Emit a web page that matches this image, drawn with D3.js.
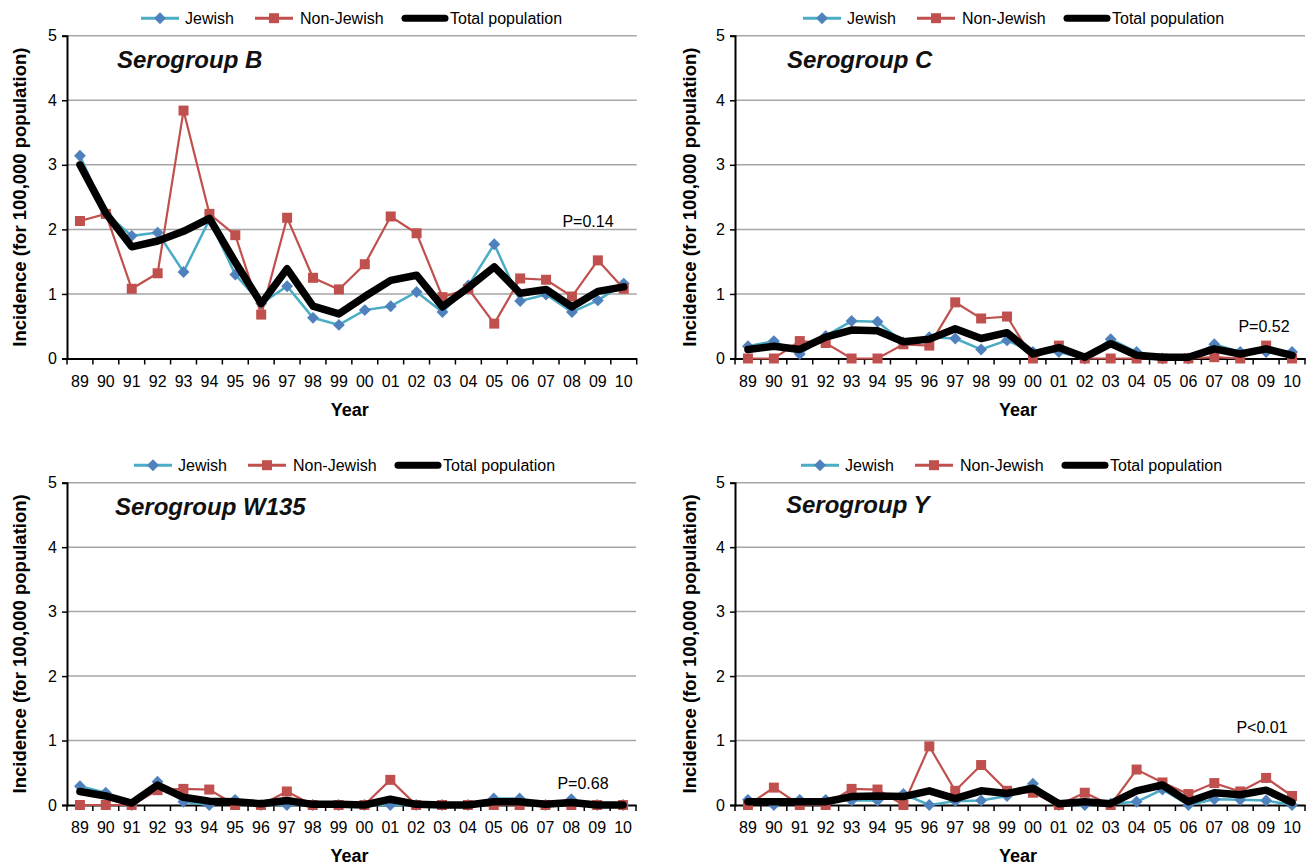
<!DOCTYPE html>
<html><head><meta charset="utf-8">
<script src="https://cdn.jsdelivr.net/npm/d3@7"></script>
<style>
html,body{margin:0;padding:0;background:#fff;}
svg{display:block;font-family:"Liberation Sans",Arial,sans-serif;}
</style></head>
<body><svg id="c" width="1314" height="868"></svg>
<script>
const years = ["89","90","91","92","93","94","95","96","97","98","99","00","01","02","03","04","05","06","07","08","09","10"];
const yTicks = [0,1,2,3,4,5];
const seriesNames = ["Jewish","Non-Jewish","Total population"];

const bJewish    = [3.14,2.25,1.90,1.95,1.34,2.15,1.30,0.85,1.12,0.63,0.52,0.75,0.81,1.03,0.72,1.13,1.77,0.89,0.99,0.72,0.90,1.16];
const bNonJewish = [2.13,2.24,1.08,1.32,3.84,2.24,1.91,0.68,2.18,1.25,1.07,1.46,2.20,1.94,0.95,1.08,0.54,1.24,1.22,0.96,1.52,1.08];
const bTotal     = [3.00,2.25,1.73,1.82,1.97,2.17,1.49,0.85,1.39,0.81,0.69,0.96,1.21,1.29,0.80,1.10,1.42,1.01,1.07,0.80,1.04,1.11];

const cJewish    = [0.19,0.27,0.07,0.35,0.58,0.57,0.25,0.33,0.31,0.14,0.28,0.10,0.10,0.00,0.30,0.10,0.00,0.00,0.22,0.10,0.10,0.10];
const cNonJewish = [0.00,0.00,0.27,0.24,0.00,0.00,0.22,0.20,0.87,0.62,0.65,0.00,0.20,0.00,0.00,0.00,0.00,0.00,0.02,0.00,0.20,0.00];
const cTotal     = [0.14,0.19,0.14,0.33,0.44,0.43,0.26,0.30,0.46,0.31,0.40,0.07,0.17,0.02,0.23,0.05,0.02,0.02,0.15,0.07,0.15,0.05];

const wJewish    = [0.29,0.19,0.00,0.36,0.05,0.00,0.08,0.00,0.00,0.00,0.00,0.00,0.00,0.00,0.00,0.00,0.10,0.10,0.00,0.09,0.00,0.00];
const wNonJewish = [0.00,0.00,0.00,0.23,0.25,0.24,0.00,0.00,0.21,0.00,0.00,0.00,0.39,0.00,0.00,0.00,0.00,0.00,0.00,0.00,0.00,0.00];
const wTotal     = [0.21,0.14,0.03,0.31,0.12,0.06,0.05,0.02,0.07,0.01,0.01,0.00,0.09,0.01,0.00,0.00,0.05,0.05,0.01,0.04,0.00,0.00];

const yJewish    = [0.08,0.00,0.08,0.08,0.07,0.07,0.17,0.00,0.06,0.07,0.14,0.33,0.00,0.00,0.02,0.05,0.24,0.00,0.09,0.08,0.07,0.00];
const yNonJewish = [0.00,0.27,0.00,0.00,0.25,0.24,0.00,0.91,0.22,0.62,0.22,0.19,0.00,0.19,0.00,0.55,0.35,0.17,0.34,0.21,0.42,0.14];
const yTotal     = [0.05,0.05,0.05,0.05,0.13,0.14,0.13,0.22,0.10,0.22,0.18,0.26,0.02,0.05,0.02,0.22,0.31,0.05,0.19,0.16,0.23,0.04];

const titles = ["Serogroup B","Serogroup C","Serogroup W135","Serogroup Y"];
const pLabels = ["P=0.14","P=0.52","P=0.68","P<0.01"];
const pValuePos = [2.12, 0.49, 0.33, 1.21]; // y-value where P text sits

const panels = [
  {title:titles[0], p:pLabels[0], pv:pValuePos[0], data:[bJewish,bNonJewish,bTotal], x0:67, x1:636.7, y0:358.5, y5:35.7, lx:141, tx:117, ty:68, px:588, lab:20},
  {title:titles[1], p:pLabels[1], pv:pValuePos[1], data:[cJewish,cNonJewish,cTotal], x0:735, x1:1305, y0:358.5, y5:35.7, lx:803, tx:787, ty:68, px:1264, lab:690},
  {title:titles[2], p:pLabels[2], pv:pValuePos[2], data:[wJewish,wNonJewish,wTotal], x0:67, x1:636, y0:805, y5:482.7, lx:134, tx:115, ty:515, px:583, lab:20},
  {title:titles[3], p:pLabels[3], pv:pValuePos[3], data:[yJewish,yNonJewish,yTotal], x0:735, x1:1305, y0:805, y5:482.7, lx:801, tx:786, ty:513, px:1262, lab:690}
];

const lineCol = ["#4bacc6","#c0504d","#000000"];
const markCol = ["#4f81bd","#c0504d","#000000"];
const lineW = [2.5,2.2,7.5];

const svg = d3.select("#c");

panels.forEach(P => {
  const g = svg.append("g");
  const x = d3.scaleBand().domain(years).range([P.x0, P.x1]).paddingInner(0).paddingOuter(0);
  const y = d3.scaleLinear().domain([0,5]).range([P.y0, P.y5]);
  const cx = d => x(d) + x.bandwidth()/2;

  g.selectAll(".grid").data(yTicks.filter(t=>t>0)).enter().append("line")
    .attr("x1", P.x0).attr("x2", P.x1).attr("y1", d=>y(d)).attr("y2", d=>y(d))
    .attr("stroke","#a6a6a6").attr("stroke-width",1.5);

  const ya = g.append("g").attr("transform",`translate(${P.x0},0)`)
    .call(d3.axisLeft(y).tickValues(yTicks).tickFormat(d3.format("d")).tickSize(5).tickPadding(5));
  ya.select(".domain").attr("stroke","#000").attr("stroke-width",2);
  ya.selectAll(".tick line").attr("stroke","#000").attr("stroke-width",1.5);
  ya.selectAll("text").attr("font-size",16).attr("fill","#000").attr("font-family","Liberation Sans, Arial, sans-serif");

  const xa = g.append("g").attr("transform",`translate(0,${P.y0})`)
    .call(d3.axisBottom(x).tickSize(0).tickPadding(17));
  xa.select(".domain").attr("stroke","#000").attr("stroke-width",2);
  xa.selectAll("text").attr("font-size",16).attr("fill","#000").attr("font-family","Liberation Sans, Arial, sans-serif");
  const bounds = years.map(d=>x(d)).concat([P.x1]);
  g.selectAll(".xb").data(bounds).enter().append("line")
    .attr("x1",d=>d).attr("x2",d=>d).attr("y1",P.y0).attr("y2",P.y0+6)
    .attr("stroke","#000").attr("stroke-width",1.5);

  P.data.forEach((vals,i) => {
    const line = d3.line().x((v,k)=>cx(years[k])).y(v=>y(v));
    g.append("path").datum(vals).attr("d",line).attr("fill","none")
      .attr("stroke",lineCol[i]).attr("stroke-width",lineW[i])
      .attr("stroke-linejoin", i===2 ? "round" : "miter").attr("stroke-linecap", i===2?"round":"butt");
    if(i===0){
      g.selectAll(".dm").data(vals).enter().append("path")
        .attr("d", d3.symbol().type(d3.symbolDiamond2).size(90))
        .attr("transform",(v,k)=>`translate(${cx(years[k])},${y(v)})`)
        .attr("fill",markCol[0]);
    } else if(i===1){
      g.selectAll(".sq").data(vals).enter().append("rect")
        .attr("x",(v,k)=>cx(years[k])-5).attr("y",v=>y(v)-5)
        .attr("width",10).attr("height",10).attr("fill",markCol[1]);
    }
  });

  g.append("text").attr("x",P.tx).attr("y",P.ty).text(P.title)
    .attr("font-size",24).attr("font-weight","bold").attr("font-style","italic").attr("fill","#111")
    .attr("font-family","Liberation Sans, Arial, sans-serif");

  g.append("text").attr("x",P.px).attr("y",y(P.pv)).attr("text-anchor","middle").attr("dy","0.35em")
    .attr("font-size",16).attr("fill","#000").text(P.p);

  g.append("text").attr("transform",`translate(${P.lab},${(P.y0+P.y5)/2}) rotate(-90)`)
    .attr("text-anchor","middle").attr("dy","0.35em").attr("font-size",18.5).attr("font-weight","bold")
    .text("Incidence (for 100,000 population)");
  g.append("text").attr("x",(P.x0+P.x1)/2 - 2).attr("y",P.y0+57).attr("text-anchor","middle")
    .attr("font-size",18).attr("font-weight","bold").text("Year");

  const ly = P.y5 - 17.5;
  const offs = [[0,38,44],[114,152,159],[264,304,309]];
  offs.forEach((o,i) => {
    g.append("line").attr("x1",P.lx+o[0]).attr("x2",P.lx+o[1]).attr("y1",ly).attr("y2",ly)
      .attr("stroke",lineCol[i]).attr("stroke-width", i===2?7:3).attr("stroke-linecap", i===2?"round":"butt");
    const mx = P.lx + (o[0]+o[1])/2;
    if(i===0){
      g.append("path").attr("d", d3.symbol().type(d3.symbolDiamond2).size(90)).attr("transform",`translate(${mx},${ly})`).attr("fill",markCol[0]);
    } else if(i===1){
      g.append("rect").attr("x",mx-5).attr("y",ly-5).attr("width",10).attr("height",10).attr("fill",markCol[1]);
    }
    g.append("text").attr("x",P.lx+o[2]).attr("y",ly).attr("dy","0.35em").attr("font-size",16).attr("fill","#000").text(seriesNames[i]);
  });
});
</script></body></html>
